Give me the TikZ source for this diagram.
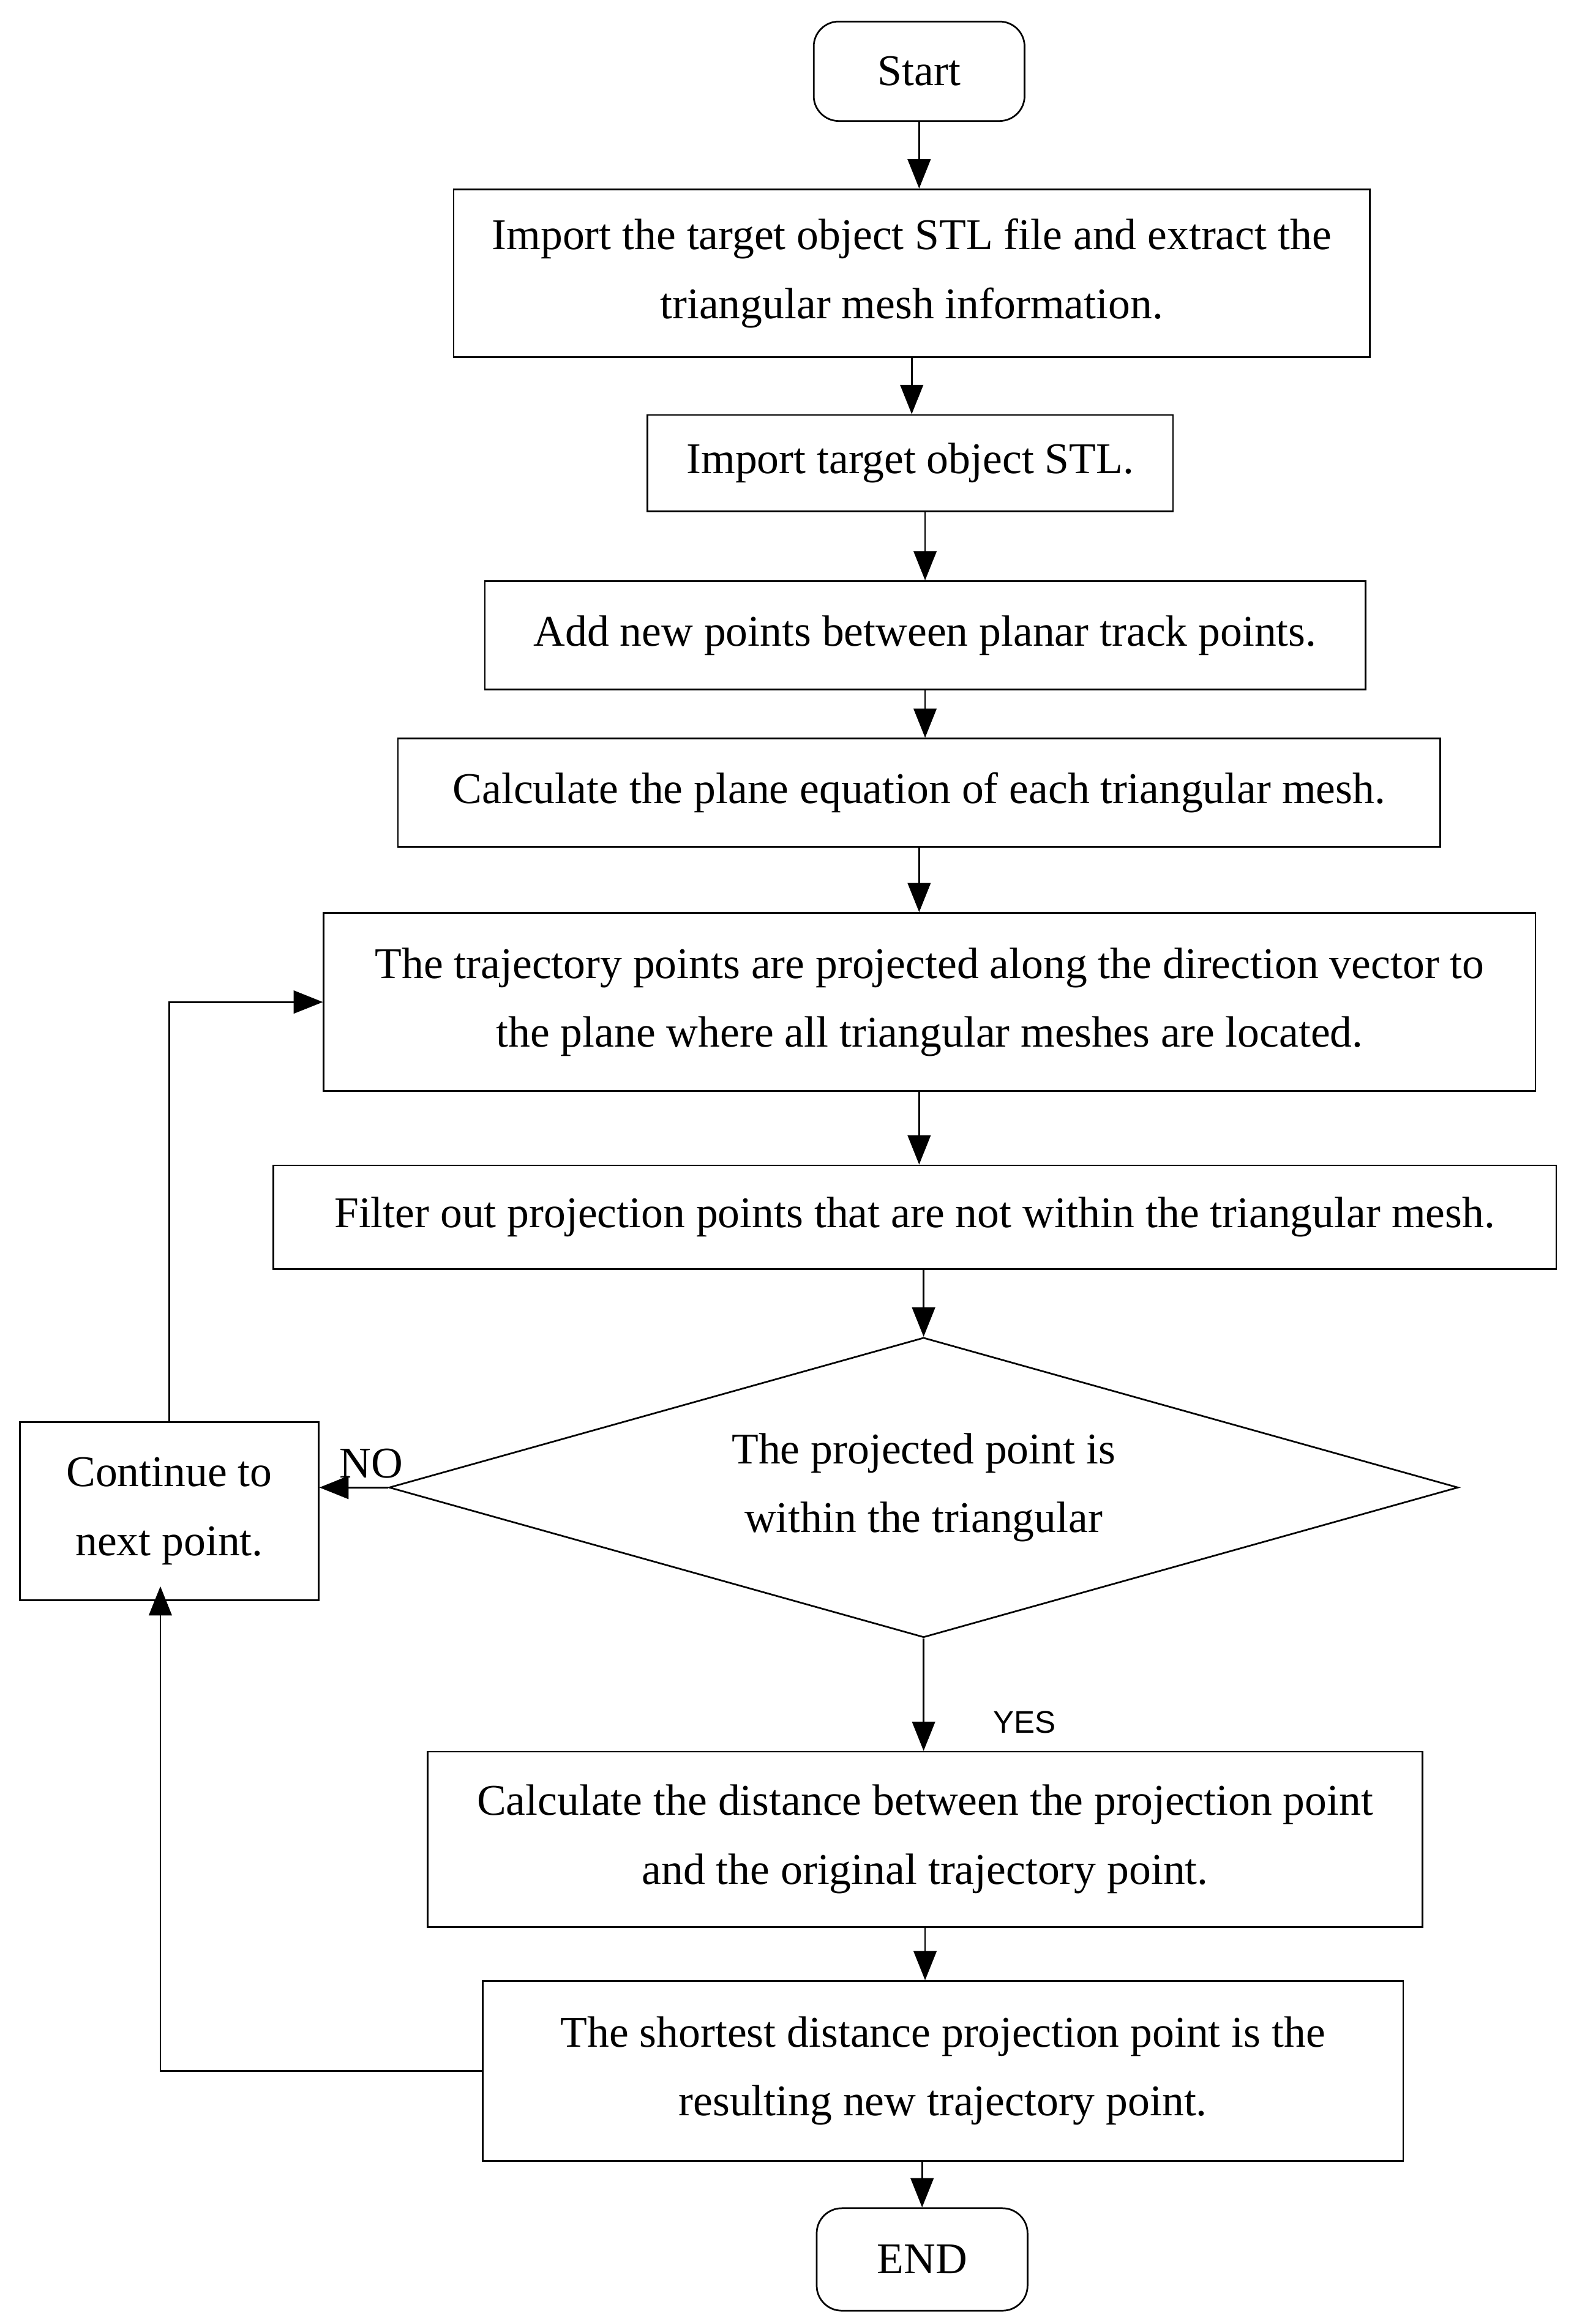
\documentclass[tikz,border=0pt]{standalone}
\usepackage{fontspec}
\setmainfont{Liberation Serif}
\newfontfamily\labelfont{Liberation Sans}
\usetikzlibrary{shapes.geometric,arrows.meta}

\tikzset{
    procbox/.style={draw, thick, align=center, inner sep=0pt},
    term/.style={draw, thick, rounded corners=12pt, inner sep=0pt},
    flow/.style={thick, -{Triangle[length=14pt,width=11pt]}}
}

\begin{document}
\begin{tikzpicture}[x=0.025cm, y=-0.025cm, font=\fontsize{21}{33}\selectfont]
    \useasboundingbox (0,0) rectangle (1060,1565.5);

    % Terminals
    \node[term, minimum width=142*0.025cm, minimum height=67*0.025cm] (start) at (619,48) {Start};
    \node[term, minimum width=142*0.025cm, minimum height=69*0.025cm] (finish) at (621,1522) {END};

    % Process steps
    \node[procbox, minimum width=617*0.025cm, minimum height=113*0.025cm] (import) at (614,184)
        {Import the target object STL file and extract the\\triangular mesh information.};
    \node[procbox, minimum width=354*0.025cm, minimum height=65*0.025cm] (stl) at (613,312)
        {Import target object STL.};
    \node[procbox, minimum width=593*0.025cm, minimum height=73*0.025cm] (addpts) at (623,428)
        {Add new points between planar track points.};
    \node[procbox, minimum width=702*0.025cm, minimum height=73*0.025cm] (plane) at (619,534)
        {Calculate the plane equation of each triangular mesh.};
    \node[procbox, minimum width=816*0.025cm, minimum height=120*0.025cm] (project) at (626,675)
        {The trajectory points are projected along the direction vector to\\the plane where all triangular meshes are located.};
    \node[procbox, minimum width=864*0.025cm, minimum height=70*0.025cm] (filter) at (616,820)
        {Filter out projection points that are not within the triangular mesh.};
    \node[diamond, draw, thick, aspect=3.56, inner sep=0pt, align=center,
        minimum width=720*0.025cm, minimum height=202*0.025cm] (check) at (622,1002)
        {The projected point is\\within the triangular};
    \node[procbox, minimum width=201*0.025cm, minimum height=120*0.025cm] (next) at (114,1018)
        {Continue to\\next point.};
    \node[procbox, minimum width=670*0.025cm, minimum height=118*0.025cm] (dist) at (623,1239)
        {Calculate the distance between the projection point\\and the original trajectory point.};
    \node[procbox, minimum width=620*0.025cm, minimum height=121*0.025cm] (shortest) at (635,1395)
        {The shortest distance projection point is the\\resulting new trajectory point.};

    % Labels
    \node (no) at (250,986) {NO};
    \node[font=\labelfont\fontsize{15}{18}\selectfont] (yes) at (690,1160) {YES};

    % Connectors
    \draw[flow] (start.south) -- (start.south |- import.north);
    \draw[flow] (import.south) -- (import.south |- stl.north);
    \draw[flow] (stl.south -| addpts.north) -- (addpts.north);
    \draw[flow] (addpts.south) -- (addpts.south |- plane.north);
    \draw[flow] (plane.south) -- (plane.south |- project.north);
    \draw[flow] (plane.south |- project.south) -- (plane.south |- filter.north);
    \draw[flow] (filter.south -| check.north) -- (check.north);
    \draw[flow] (check.west) -- (check.west -| next.east);
    \draw[flow] (check.south) -- (check.south |- dist.north);
    \draw[flow] (dist.south) -- (dist.south |- shortest.north);
    \draw[flow] (finish.north |- shortest.south) -- (finish.north);
    \draw[flow] (shortest.west) -| ([xshift=-6*0.025cm, yshift=10*0.025cm]next.south);
    \draw[flow] (next.north) |- (project.west);
\end{tikzpicture}
\end{document}
